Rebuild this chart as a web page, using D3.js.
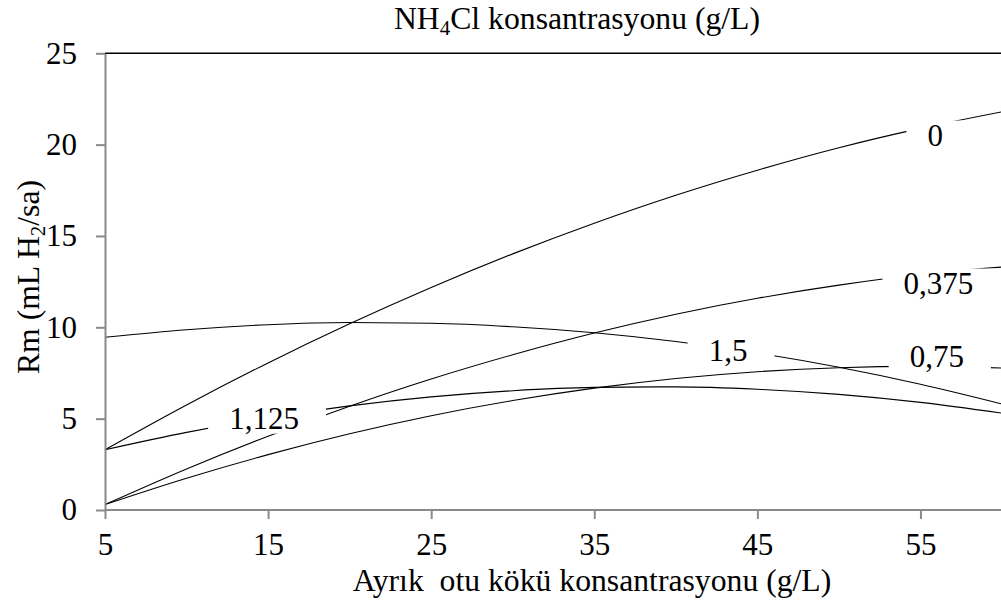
<!DOCTYPE html>
<html>
<head>
<meta charset="utf-8">
<script src="https://cdn.jsdelivr.net/npm/d3@7"></script>
<style>
  body { margin: 0; background: #fff; }
</style>
</head>
<body>
<script>
// Ayrik otu koku konsantrasyonu (g/L)
var xValues = [5, 10, 15, 20, 25, 30, 35, 40, 45, 50, 55, 60]

// Rm (mL H2/sa) for each NH4Cl level
var rm0    = [3.30, 5.75, 8.05, 10.19, 12.18, 14.02, 15.70, 17.23, 18.60, 19.83, 20.89, 21.80]
var rm0375 = [0.30, 2.25, 4.04, 5.68, 7.17, 8.50, 9.69, 10.72, 11.59, 12.31, 12.89, 13.30]
var rm075  = [0.30, 1.74, 3.03, 4.17, 5.16, 5.99, 6.67, 7.20, 7.57, 7.79, 7.86, 7.77]
var rm1125 = [3.30, 4.25, 5.05, 5.70, 6.19, 6.53, 6.71, 6.74, 6.61, 6.33, 5.89, 5.30]
var rm15   = [9.46, 9.87, 10.14, 10.26, 10.22, 10.03, 9.70, 9.22, 8.59, 7.81, 6.88, 5.80]

var levels = ["0", "0,375", "0,75", "1,125", "1,5"]
var seriesValues = [rm0, rm0375, rm075, rm1125, rm15]

// where each level label sits (x in g/L, y in mL H2/sa)
var labelX = [55.9, 56.1, 56.0, 14.75, 43.2]
var labelY = [20.5, 12.4, 8.4, 5.0, 8.75]

var xTicks = [5, 15, 25, 35, 45, 55]
var yTicks = [0, 5, 10, 15, 20, 25]

var width = 1001,
    height = 610,
    font = "'Liberation Serif', 'Times New Roman', serif",
    fontSize = 31

var svg = d3.select("body")
  .append("svg")
  .attr("width", width)
  .attr("height", height)

var x = d3.scaleLinear().domain([5, 60]).range([105, 1002])
var y = d3.scaleLinear().domain([0, 25]).range([510, 53.3])

var axisColor = "#8a8a8a"

// top frame line
svg.append("line")
  .attr("x1", x(5))
  .attr("x2", width)
  .attr("y1", y(25))
  .attr("y2", y(25))
  .attr("stroke", "#000")
  .attr("stroke-width", 1.4)

var line = d3.line()
  .x(function(d) { return x(d[0]) })
  .y(function(d) { return y(d[1]) })
  .curve(d3.curveMonotoneX)

var series = seriesValues.map(function(vals, i) {
  return { name: levels[i], points: vals.map(function(v, j) { return [xValues[j], v] }) }
})

svg.append("g")
  .selectAll("path")
  .data(series)
  .enter().append("path")
  .attr("d", function(d) { return line(d.points) })
  .attr("fill", "none")
  .attr("stroke", "#000")
  .attr("stroke-width", 1.1)

// axes
var xAxis = svg.append("g")
  .attr("transform", "translate(0 " + y(0) + ")")
  .call(d3.axisBottom(x).tickValues(xTicks).tickSize(9).tickSizeOuter(0).tickPadding(14))

var yAxis = svg.append("g")
  .attr("transform", "translate(" + x(5) + " 0)")
  .call(d3.axisLeft(y).tickValues(yTicks).tickSize(9).tickSizeOuter(0).tickPadding(19))

;[xAxis, yAxis].forEach(function(a) {
  a.attr("font-family", null)
  a.select(".domain").attr("stroke", axisColor).attr("stroke-width", 2)
  a.selectAll(".tick line").attr("stroke", axisColor).attr("stroke-width", 2)
  a.selectAll(".tick text")
    .style("font-family", font)
    .style("font-size", fontSize + "px")
    .attr("fill", "#000")
})
xAxis.select(".domain").attr("d", "M" + x(5) + ",0H" + width)

// level labels with white boxes cutting the lines
var labels = svg.append("g")
  .selectAll("g")
  .data(levels)
  .enter().append("g")
  .attr("transform", function(d, i) { return "translate(" + x(labelX[i]) + " " + y(labelY[i]) + ")" })

labels.append("rect")
  .attr("fill", "#fff")

labels.append("text")
  .text(function(d) { return d })
  .attr("text-anchor", "middle")
  .attr("dy", "0.34em")
  .style("font-family", font)
  .style("font-size", fontSize + "px")

labels.each(function() {
  var g = d3.select(this)
  var w = g.select("text").node().getComputedTextLength()
  g.select("rect")
    .attr("x", -w / 2 - 21)
    .attr("y", -15)
    .attr("width", w + 48)
    .attr("height", 30)
})

// titles
var title = svg.append("text")
  .attr("x", 577)
  .attr("y", 29)
  .attr("text-anchor", "middle")
  .style("font-family", font)
  .style("font-size", "31.7px")
title.append("tspan").text("NH")
title.append("tspan").text("4").style("font-size", "21px").attr("dy", 6)
title.append("tspan").text("Cl konsantrasyonu (g/L)").attr("dy", -6)

svg.append("text")
  .attr("x", 592)
  .attr("y", 591)
  .attr("text-anchor", "middle")
  .style("font-family", font)
  .style("font-size", "31.7px")
  .style("white-space", "pre")
  .text("Ayrık  otu kökü konsantrasyonu (g/L)")

var yTitle = svg.append("text")
  .attr("transform", "translate(39 277) rotate(-90)")
  .attr("text-anchor", "middle")
  .style("font-family", font)
  .style("font-size", "31.7px")
yTitle.append("tspan").text("Rm (mL H")
yTitle.append("tspan").text("2").style("font-size", "21px").attr("dy", 6)
yTitle.append("tspan").text("/sa)").attr("dy", -6)
</script>
</body>
</html>
